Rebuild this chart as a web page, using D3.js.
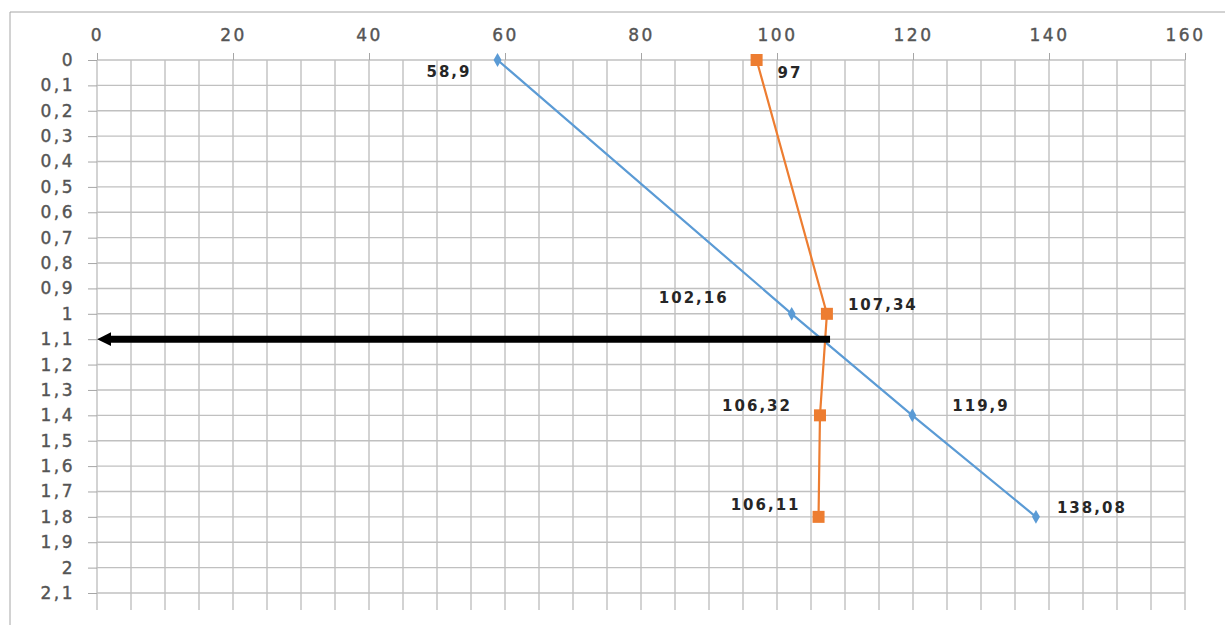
<!DOCTYPE html>
<html>
<head>
<meta charset="utf-8">
<script src="https://cdn.jsdelivr.net/npm/d3@7"></script>
<style>
  body { margin: 0; background: #fff; }
  svg { display: block; font-family: "DejaVu Sans", Verdana, sans-serif; }
</style>
</head>
<body>
<div id="chart"></div>
<script>
// data
var depths = [0, 1, 1.4, 1.8];
var seriesA = [58.9, 102.16, 119.9, 138.08];   // blue
var seriesB = [97, 107.34, 106.32, 106.11];    // orange
var labelsA = ["58,9", "102,16", "119,9", "138,08"];
var labelsB = ["97", "107,34", "106,32", "106,11"];
var arrowDepth = 1.1;
var arrowFrom = 107.8;

// label placement (dx, dy, anchor) per point
var placeA = [[-26, 17, "end"], [-63, -11, "end"], [40, -4, "start"], [21, -4, "start"]];
var placeB = [[21, 18, "start"], [21, -4, "start"], [-28, -4, "end"], [-18, -7, "end"]];

// chart setup
var svgWidth = 1225;
var svgHeight = 625;
var fontFam = '"DejaVu Sans", Verdana, sans-serif';

var svg = d3.select("#chart")
  .append("svg")
  .attr("width", svgWidth)
  .attr("height", svgHeight);

// outer frame (top + left edge only visible)
svg.append("line").attr("x1", 10).attr("x2", svgWidth).attr("y1", 12).attr("y2", 12)
  .attr("stroke", "#a6a6a6").attr("stroke-width", 1);
svg.append("line").attr("x1", 10).attr("x2", 10).attr("y1", 12).attr("y2", svgHeight)
  .attr("stroke", "#a6a6a6").attr("stroke-width", 1);

// scales
var x = d3.scaleLinear().domain([0, 160]).range([97, 1185]);
var y = d3.scaleLinear().domain([0, 2.1]).range([60, 593]);

var gridBottom = 610;
var gridColor = "#c0c0c0";

// vertical grid every 5
var grid = svg.append("g");
grid.selectAll(".vgrid")
  .data(d3.range(0, 160.01, 5))
  .enter().append("line")
  .attr("x1", d => x(d)).attr("x2", d => x(d))
  .attr("y1", y(0)).attr("y2", gridBottom)
  .attr("stroke", gridColor).attr("stroke-width", 1.4);

// horizontal grid every 0.1
var yTicks = d3.range(0, 22).map(i => +(i / 10).toFixed(1));
grid.selectAll(".hgrid")
  .data(yTicks)
  .enter().append("line")
  .attr("x1", x(0)).attr("x2", x(160))
  .attr("y1", d => y(d)).attr("y2", d => y(d))
  .attr("stroke", gridColor).attr("stroke-width", 1.4);

// top axis
var fmt = d => String(d).replace(".", ",");
var topAxis = d3.axisTop(x).tickValues(d3.range(0, 161, 20)).tickSize(7).tickPadding(12).tickFormat(fmt);
var gx = svg.append("g").attr("transform", `translate(0, ${y(0)})`).call(topAxis)
  .attr("font-family", fontFam).attr("font-size", 17);
gx.select(".domain").remove();
gx.selectAll("line").attr("stroke", "#a6a6a6");
gx.selectAll("text").attr("fill", "#555")
  .attr("stroke", "#555").attr("stroke-width", 0.4)
  .attr("font-size", 17).style("letter-spacing", "2.5px");

// left axis
var leftAxis = d3.axisLeft(y).tickValues(yTicks).tickSize(9).tickPadding(13).tickFormat(fmt);
var gy = svg.append("g").attr("transform", `translate(${x(0)}, 0)`).call(leftAxis)
  .attr("font-family", fontFam).attr("font-size", 17);
gy.select(".domain").remove();
gy.selectAll("line").attr("stroke", "#a6a6a6");
gy.selectAll("text").attr("fill", "#555")
  .attr("stroke", "#555").attr("stroke-width", 0.4)
  .attr("font-size", 17).style("letter-spacing", "2.5px");

// lines
var lineGen = d3.line().x(d => x(d[0])).y(d => y(d[1]));
var ptsA = seriesA.map((v, i) => [v, depths[i]]);
var ptsB = seriesB.map((v, i) => [v, depths[i]]);

svg.append("path").datum(ptsA).attr("d", lineGen)
  .attr("fill", "none").attr("stroke", "#5b9bd5").attr("stroke-width", 2.2);
svg.append("path").datum(ptsB).attr("d", lineGen)
  .attr("fill", "none").attr("stroke", "#ed7d31").attr("stroke-width", 2.2);

// markers
svg.selectAll(".mA").data(ptsA).enter().append("path")
  .attr("d", d3.symbol().type(d3.symbolDiamond).size(55))
  .attr("transform", d => `translate(${x(d[0])},${y(d[1])})`)
  .attr("fill", "#5b9bd5");
svg.selectAll(".mB").data(ptsB).enter().append("rect")
  .attr("x", d => x(d[0]) - 6).attr("y", d => y(d[1]) - 6)
  .attr("width", 12).attr("height", 12)
  .attr("fill", "#ed7d31");

// arrow at the crossing level
svg.append("defs").append("marker")
  .attr("id", "head").attr("viewBox", "0 0 10 10")
  .attr("refX", 3).attr("refY", 5)
  .attr("markerUnits", "userSpaceOnUse")
  .attr("markerWidth", 14).attr("markerHeight", 16)
  .attr("orient", "auto")
  .append("path").attr("d", "M0,0 L10,5 L0,10 Z").attr("fill", "#000");
svg.append("line")
  .attr("x1", x(arrowFrom)).attr("x2", x(0) + 10)
  .attr("y1", y(arrowDepth)).attr("y2", y(arrowDepth))
  .attr("stroke", "#000").attr("stroke-width", 7)
  .attr("marker-end", "url(#head)");

// data labels
function addLabels(pts, labels, place) {
  svg.selectAll(null).data(pts).enter().append("text")
    .attr("x", (d, i) => x(d[0]) + place[i][0])
    .attr("y", (d, i) => y(d[1]) + place[i][1])
    .attr("text-anchor", (d, i) => place[i][2])
    .attr("fill", "#262626")
    .style("font-size", "15px")
    .style("font-weight", "bold")
    .style("letter-spacing", "2px")
    .text((d, i) => labels[i]);
}
addLabels(ptsA, labelsA, placeA);
addLabels(ptsB, labelsB, placeB);
</script>
</body>
</html>
